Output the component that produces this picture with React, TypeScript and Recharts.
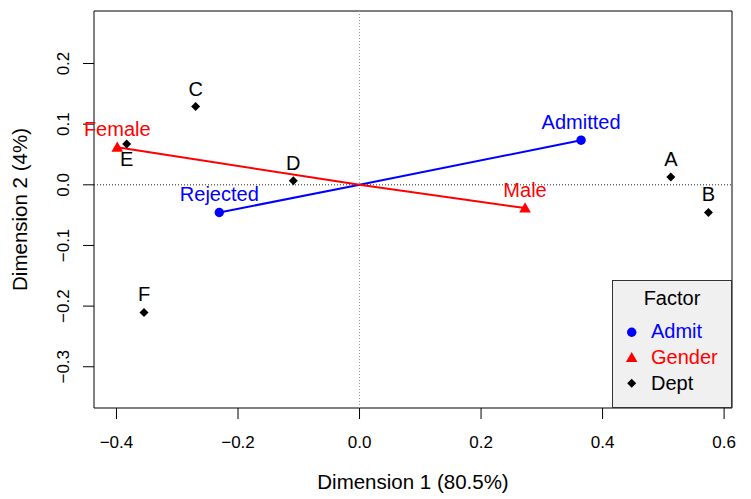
import React from 'react'
import {
  ScatterChart, Scatter, XAxis, YAxis, ReferenceLine, ReferenceArea, Legend,
} from 'recharts'

const admitLevels = ['Admitted', 'Rejected']
const admitDim1 = [0.3646, -0.2308]
const admitDim2 = [0.0736, -0.0456]

const genderLevels = ['Male', 'Female']
const genderDim1 = [0.2724, -0.3987]
const genderDim2 = [-0.0384, 0.0618]

const deptLevels = ['A', 'B', 'C', 'D', 'E', 'F']
const deptDim1 = [0.5123, 0.5742, -0.2697, -0.109, -0.3832, -0.3547]
const deptDim2 = [0.0127, -0.0456, 0.129, 0.0066, 0.0675, -0.2104]

const xTicks = [-0.4, -0.2, 0, 0.2, 0.4, 0.6]
const yTicks = [-0.3, -0.2, -0.1, 0, 0.1, 0.2]
const xDomain: [number, number] = [-0.437, 0.613]
const yDomain: [number, number] = [-0.368, 0.2866]

const FF = '"Liberation Sans", Arial, Helvetica, sans-serif'
const BLUE = '#0000FF'
const RED = '#FF0000'
const BLACK = '#000000'
// labels drawn under the point instead of above
const LABEL_BELOW = new Set(['E'])

const rows = (names: string[], d1: number[], d2: number[]) =>
  names.map((name, i) => ({ name, x: d1[i], y: d2[i] }))

const admitRows = rows(admitLevels, admitDim1, admitDim2)
const genderRows = rows(genderLevels, genderDim1, genderDim2)
const deptRows = rows(deptLevels, deptDim1, deptDim2)

const fmt = (v: number) => v.toFixed(1).replace('-', '\u2212')

function Marker({ kind, color, cx, cy }: { kind: string; color: string; cx: number; cy: number }) {
  if (kind === 'circle') return <circle cx={cx} cy={cy} r={4.7} fill={color} />
  if (kind === 'triangle')
    return <polygon points={`${cx},${cy - 5.8} ${cx - 5.8},${cy + 4.3} ${cx + 5.8},${cy + 4.3}`} fill={color} />
  return <polygon points={`${cx},${cy - 4.5} ${cx + 4.5},${cy} ${cx},${cy + 4.5} ${cx - 4.5},${cy}`} fill={color} />
}

const pointShape = (kind: string, color: string) => (props: any) => {
  const { cx, cy, payload } = props
  const below = LABEL_BELOW.has(payload.name)
  return (
    <g>
      <Marker kind={kind} color={color} cx={cx} cy={cy} />
      <text x={cx} y={below ? cy + 22 : cy - 11} textAnchor="middle" fontSize={20} fontFamily={FF} fill={color}>
        {payload.name}
      </text>
    </g>
  )
}

const XTick = ({ x, y, payload }: any) => (
  <text x={x} y={y + 29} textAnchor="middle" fontSize={17} fontFamily={FF} fill="#000">
    {fmt(payload.value)}
  </text>
)

const YTick = ({ x, y, payload }: any) => (
  <text x={x - 14} y={y} textAnchor="middle" fontSize={17} fontFamily={FF} fill="#000"
    transform={`rotate(-90, ${x - 14}, ${y})`}>
    {fmt(payload.value)}
  </text>
)

const legendItems = [
  { label: 'Admit', kind: 'circle', color: BLUE },
  { label: 'Gender', kind: 'triangle', color: RED },
  { label: 'Dept', kind: 'diamond', color: BLACK },
]

const FactorLegend = () => (
  <svg width={120} height={128} style={{ display: 'block' }}>
    <rect x={0.5} y={0.5} width={119} height={127} fill="#F0F0F0" stroke="#333" />
    <text x={60} y={25} textAnchor="middle" fontSize={20} fontFamily={FF} fill="#000">Factor</text>
    {legendItems.map((it, i) => (
      <g key={it.label}>
        <Marker kind={it.kind} color={it.color} cx={19.7} cy={52.3 + i * 25.5} />
        <text x={39} y={58.3 + i * 25.8} fontSize={20} fontFamily={FF} fill={it.color}>{it.label}</text>
      </g>
    ))}
  </svg>
)

export default function App() {
  return (
    <div style={{ position: 'absolute', left: 0, top: 0, width: 751, height: 499, background: '#fff' }}>
      <ScatterChart width={751} height={499} margin={{ top: 11, right: 19, bottom: 0, left: 0 }}>
        <XAxis
          type="number" dataKey="x" domain={xDomain} ticks={xTicks}
          height={91} axisLine={false} tickLine={{ stroke: '#000' }} tickSize={11} tickMargin={0}
          tick={<XTick />}
          label={{
            content: ({ viewBox }: any) => (
              <text x={viewBox.x + viewBox.width / 2} y={viewBox.y + 81} textAnchor="middle"
                fontSize={20.5} fontFamily={FF} fill="#000">Dimension 1 (80.5%)</text>
            ),
          }}
        />
        <YAxis
          type="number" dataKey="y" domain={yDomain} ticks={yTicks}
          width={94} axisLine={false} tickLine={{ stroke: '#000' }} tickSize={11} tickMargin={0}
          tick={<YTick />}
          label={{
            content: ({ viewBox }: any) => {
              const cx = 27
              const cy = viewBox.y + viewBox.height / 2
              return (
                <text x={cx} y={cy} textAnchor="middle" fontSize={20.5} fontFamily={FF} fill="#000"
                  transform={`rotate(-90, ${cx}, ${cy})`}>Dimension 2 (4%)</text>
              )
            },
          }}
        />
        <ReferenceLine x={0} stroke="#999" strokeDasharray="1 2" />
        <ReferenceLine y={0} stroke="#222" strokeDasharray="1 2" />
        {admitRows.map((r) => (
          <ReferenceLine key={r.name} segment={[{ x: 0, y: 0 }, { x: r.x, y: r.y }]} stroke={BLUE} strokeWidth={2} />
        ))}
        {genderRows.map((r) => (
          <ReferenceLine key={r.name} segment={[{ x: 0, y: 0 }, { x: r.x, y: r.y }]} stroke={RED} strokeWidth={2} />
        ))}
        <ReferenceArea x1={xDomain[0]} x2={xDomain[1]} y1={yDomain[0]} y2={yDomain[1]}
          fill="none" stroke="#000" strokeWidth={1} fillOpacity={0} ifOverflow="visible" />
        <Scatter data={admitRows} isAnimationActive={false} shape={pointShape('circle', BLUE)} />
        <Scatter data={genderRows} isAnimationActive={false} shape={pointShape('triangle', RED)} />
        <Scatter data={deptRows} isAnimationActive={false} shape={pointShape('diamond', BLACK)} />
        <Legend
          layout="horizontal" verticalAlign="middle" align="center"
          content={() => <FactorLegend />}
          wrapperStyle={{ position: 'absolute', left: 612, top: 280, width: 120, height: 128 }}
        />
      </ScatterChart>
    </div>
  )
}
